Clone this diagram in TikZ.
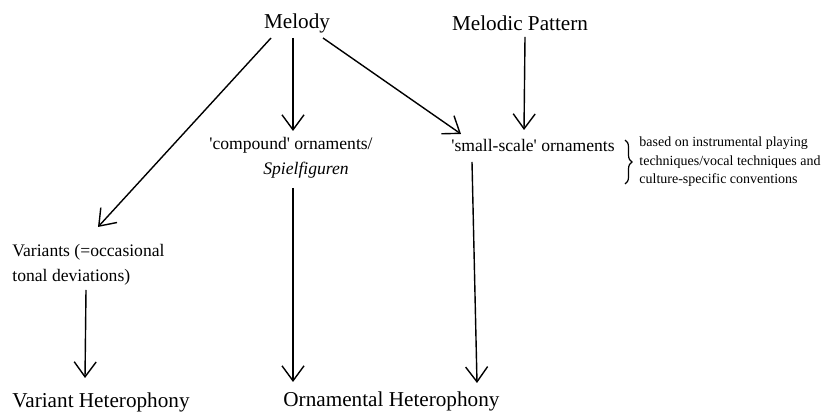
\documentclass[tikz,border=0pt]{standalone}
\usepackage{fontspec}
\setmainfont{Liberation Serif}
\usetikzlibrary{arrows.meta,decorations.pathreplacing}
\tikzset{
  arr/.style={line width=0.7pt,-{Straight Barb[length=7.5pt,width=11pt,line width=0.7pt]}},
  big/.style={inner sep=0pt,font=\fontsize{10.6}{12}\selectfont},
  mid/.style={inner sep=0pt,font=\fontsize{8.8}{12.4}\selectfont},
  small/.style={inner sep=0pt,font=\fontsize{7}{9.3}\selectfont},
}
\newcommand{\sq}{\textquotesingle}
\begin{document}
\begin{tikzpicture}[x=0.5pt,y=-0.5pt]
\useasboundingbox (0,0) rectangle (828,415);
% nodes
\node[big] (mel) at (297,23) {Melody};
\node[big] (mp) at (520,23) {Melodic Pattern};
\node[mid] (comp) at (291,145) {\sq compound\sq{} ornaments/};
\node[mid] (spiel) at (306,170) {\itshape Spielfiguren};
\node[mid] (small) at (533,145) {\sq small-scale\sq{} ornaments};
\node[mid,anchor=west,align=left] (var) at (12,265) {Variants (=occasional\\tonal deviations)};
\node[small,anchor=west,align=left] (side) at (639,162) {based on instrumental playing\\techniques/vocal techniques and\\culture-specific conventions};
\node[big,anchor=west] (vh) at (12,402) {Variant Heterophony};
\node[big,anchor=west] (oh) at (283,401) {Ornamental Heterophony};
% connector end points
\coordinate (m1) at (271,38);
\coordinate (m2) at (293,38);
\coordinate (m3) at (323,38);
\coordinate (mp1) at (525,37);
\coordinate (t1) at (98,227);
\coordinate (t2) at (293,131);
\coordinate (t3) at (461,134);
\coordinate (t4) at (524,130);
\coordinate (c1) at (293,188);
\coordinate (c2) at (293,382);
\coordinate (s1) at (472,162);
\coordinate (s2) at (477,383);
\coordinate (v1) at (86,290);
\coordinate (v2) at (85,378);
% connectors
\draw[arr] (m1) -- (t1);
\draw[arr] (m2) -- (t2);
\draw[arr] (m3) -- (t3);
\draw[arr] (mp1) -- (t4);
\draw[arr] (c1) -- (c2);
\draw[arr] (s1) -- (s2);
\draw[arr] (v1) -- (v2);
% brace
\coordinate (b1) at (625,140);
\coordinate (b2) at (625,184);
\draw[line width=0.6pt,decorate,decoration={brace,amplitude=3.5pt}] (b1) -- (b2);
\end{tikzpicture}
\end{document}
